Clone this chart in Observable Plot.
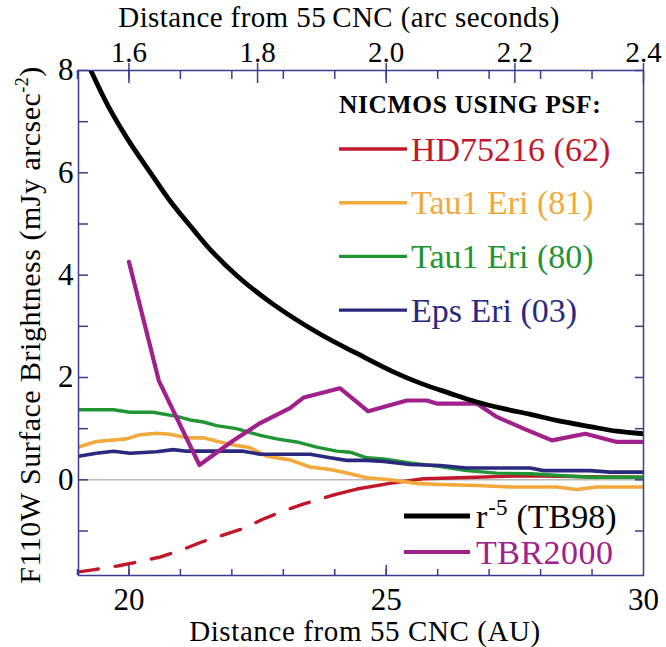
<!DOCTYPE html>
<html>
<head>
<meta charset="utf-8">
<script src="https://cdn.jsdelivr.net/npm/d3@7"></script>
<script src="https://cdn.jsdelivr.net/npm/@observablehq/plot@0.6"></script>
<style>
  html, body { margin: 0; padding: 0; background: #fff; }
  #chart { width: 666px; height: 647px; }
  #chart svg { display: block; }
</style>
</head>
<body>
<div id="chart"></div>
<script>
// ---------- Data ----------
// Distance in AU, surface brightness in mJy arcsec^-2
const r5TB98 = [
  [19.26, 8.0], [19.6, 7.3], [20.0, 6.62], [20.42, 6.0], [20.8, 5.45], [21.26, 4.88],
  [21.59, 4.49], [22.11, 3.98], [22.82, 3.42], [23.73, 2.84], [24.43, 2.47], [25.14, 2.11],
  [25.66, 1.89], [26.24, 1.69], [26.76, 1.52], [27.28, 1.39], [27.8, 1.28], [28.31, 1.16],
  [28.96, 1.04], [29.48, 0.95], [30.0, 0.90]
];
const tbr2000 = [
  [20.0, 4.26], [20.58, 1.94], [21.37, 0.29], [22.03, 0.77], [22.55, 1.11], [23.13, 1.40],
  [23.4, 1.61], [24.1, 1.79], [24.65, 1.34], [25.4, 1.55], [25.79, 1.55], [25.98, 1.49],
  [26.76, 1.49], [27.15, 1.23], [27.67, 1.0], [28.22, 0.77], [28.87, 0.90], [29.48, 0.74],
  [30.0, 0.74]
];
const tau1Eri80 = [
  [19.02, 1.37], [19.7, 1.37], [20.02, 1.32], [20.47, 1.32], [20.93, 1.24], [21.19, 1.17],
  [21.45, 1.13], [21.7, 1.06], [22.09, 1.0], [22.55, 0.87], [22.87, 0.80], [23.26, 0.74],
  [23.65, 0.64], [24.04, 0.56], [24.3, 0.54], [24.62, 0.43], [24.95, 0.41], [25.46, 0.33],
  [26.05, 0.26], [26.56, 0.18], [27.15, 0.13], [27.8, 0.12], [28.44, 0.08], [28.96, 0.05],
  [30.0, 0.05]
];
const tau1Eri81 = [
  [19.02, 0.64], [19.37, 0.75], [19.95, 0.80], [20.21, 0.88], [20.54, 0.91], [20.8, 0.89],
  [21.12, 0.82], [21.45, 0.82], [21.77, 0.74], [22.09, 0.67], [22.35, 0.63], [22.68, 0.46],
  [23.13, 0.39], [23.52, 0.25], [23.91, 0.20], [24.3, 0.12], [24.62, 0.04], [25.07, 0.0],
  [25.59, -0.07], [26.05, -0.09], [26.76, -0.11], [27.41, -0.14], [28.31, -0.14],
  [28.7, -0.19], [29.09, -0.14], [30.0, -0.14]
];
const epsEri03 = [
  [19.02, 0.46], [19.37, 0.52], [19.7, 0.56], [20.02, 0.52], [20.54, 0.55], [20.86, 0.59],
  [21.12, 0.56], [22.22, 0.56], [22.55, 0.50], [23.52, 0.50], [23.91, 0.43], [24.23, 0.38],
  [24.62, 0.38], [24.95, 0.36], [25.46, 0.30], [26.05, 0.28], [26.56, 0.23], [27.8, 0.23],
  [28.06, 0.18], [28.96, 0.18], [29.35, 0.15], [30.0, 0.15]
];
const hd75216Dashed = [
  [19.02, -1.80], [19.3, -1.76], [19.8, -1.68], [20.2, -1.60], [20.6, -1.51], [21.0, -1.38],
  [21.4, -1.22], [21.8, -1.09], [22.2, -0.96], [22.6, -0.77], [23.0, -0.61], [23.4, -0.47],
  [23.7, -0.38], [24.0, -0.29]
];
const hd75216Solid = [
  [24.0, -0.29], [24.43, -0.18], [25.07, -0.07], [25.72, 0.02], [26.76, 0.05], [27.67, 0.08],
  [28.96, 0.06], [30.0, 0.05]
];

// Axis ticks
const auLabelTicks = [20, 25, 30];
const auMinorTicks = [19, 20, 21, 22, 23, 24, 25, 26, 27, 28, 29];
const auMajorTicks = [20, 25];
const arcsecTicks = [1.6, 1.8, 2.0, 2.2, 2.4];
const auPerArcsec = 12.5;
const yLabelTicks = [0, 2, 4, 6, 8];
const yMinorTicks = [-1, 0, 1, 2, 3, 4, 5, 6, 7, 8];

// Legend entries
const psfLegend = [
  {label: "HD75216 (62)", color: "#c1172b"},
  {label: "Tau1 Eri (81)", color: "#f0a93a"},
  {label: "Tau1 Eri (80)", color: "#1f9534"},
  {label: "Eps Eri (03)", color: "#2a297d"}
];

// ---------- Layout ----------
const W = 666, H = 647;
const mL = 78, mR = 23, mT = 70, mB = 72;
const fW = W - mL - mR, fH = H - mT - mB;
const frameColor = "#3c3c8e";
const font = "'Liberation Serif', 'Times New Roman', serif";
const cRed = psfLegend[0].color, cOrange = psfLegend[1].color,
      cGreen = psfLegend[2].color, cNavy = psfLegend[3].color;
const cMagenta = "#a0218c", cBlack = "#000";

const X = d => d[0], Y = d => d[1];

const chart = Plot.plot({
  width: W, height: H,
  marginLeft: mL, marginRight: mR, marginTop: mT, marginBottom: mB,
  x: {domain: [19.02, 30]},
  y: {domain: [-1.87, 8]},
  style: {fontFamily: font, background: "#fff", color: "#000", overflow: "visible"},
  marks: [
    Plot.ruleY([0], {stroke: "#b8b8b8", strokeWidth: 1.6}),
    Plot.line(hd75216Dashed, {x: X, y: Y, stroke: cRed, strokeWidth: 3.4, strokeDasharray: "20,17", clip: true}),
    Plot.line(hd75216Solid, {x: X, y: Y, stroke: cRed, strokeWidth: 3.4, clip: true}),
    Plot.line(tau1Eri81, {x: X, y: Y, stroke: cOrange, strokeWidth: 3.6, clip: true}),
    Plot.line(tau1Eri80, {x: X, y: Y, stroke: cGreen, strokeWidth: 3.4, clip: true}),
    Plot.line(epsEri03, {x: X, y: Y, stroke: cNavy, strokeWidth: 3.6, clip: true}),
    Plot.line(tbr2000, {x: X, y: Y, stroke: cMagenta, strokeWidth: 4.2, clip: true}),
    Plot.line(r5TB98, {x: X, y: Y, stroke: cBlack, strokeWidth: 4.8, curve: "catmull-rom", clip: true}),
    Plot.frame({stroke: frameColor, strokeWidth: 1.5}),
    // bottom ticks (inward)
    Plot.tickX(auMinorTicks, {x: d => d, stroke: frameColor, strokeWidth: 1.5, insetTop: fH - 6}),
    Plot.tickX(auMajorTicks, {x: d => d, stroke: frameColor, strokeWidth: 1.5, insetTop: fH - 10}),
    // top ticks (inward) and long arcsec ticks
    Plot.tickX(auMinorTicks, {x: d => d, stroke: frameColor, strokeWidth: 1.5, insetBottom: fH - 9}),
    Plot.tickX(arcsecTicks, {x: d => d * auPerArcsec, stroke: frameColor, strokeWidth: 1.5, insetTop: -7, insetBottom: fH - 13}),
    // left / right ticks (inward)
    Plot.tickY(yMinorTicks, {y: d => d, stroke: frameColor, strokeWidth: 1.5, insetRight: fW - 10}),
    Plot.tickY(yMinorTicks, {y: d => d, stroke: frameColor, strokeWidth: 1.5, insetLeft: fW - 8}),
    // tick labels
    Plot.axisX(auLabelTicks, {anchor: "bottom", tickSize: 0, tickPadding: 12, fontSize: 31,
      tickFormat: d => String(d), label: null}),
    Plot.axisX(arcsecTicks.map(a => a * auPerArcsec), {anchor: "top", tickSize: 0, tickPadding: 9, fontSize: 29,
      tickFormat: d => (d / auPerArcsec).toFixed(1), label: null}),
    Plot.axisY(yLabelTicks, {anchor: "left", tickSize: 0, tickPadding: 5, fontSize: 31,
      tickFormat: d => String(d), label: null})
  ]
});

document.getElementById("chart").appendChild(chart);

// ---------- Titles and legends ----------
const svg = d3.select(chart);
const g = svg.append("g").attr("font-family", font).attr("fill", "#000").attr("text-anchor", "start");

// top title
g.append("text").attr("x", 339).attr("y", 27).attr("text-anchor", "middle")
  .attr("font-size", 29).attr("letter-spacing", 0.4)
  .text("Distance from 55\u2009CNC (arc seconds)");
// bottom title
g.append("text").attr("x", 365).attr("y", 641).attr("text-anchor", "middle")
  .attr("font-size", 29).attr("letter-spacing", 0.6)
  .text("Distance from 55 CNC (AU)");
// y title with superscript
const yt = g.append("text").attr("transform", "translate(40,325) rotate(-90)")
  .attr("text-anchor", "middle").attr("font-size", 30).attr("letter-spacing", 0.5);
yt.append("tspan").text("F110W Surface Brightness (mJy arcsec");
yt.append("tspan").attr("font-size", 18).attr("dy", -12).text("-2");
yt.append("tspan").attr("dy", 12).text(")");

// PSF legend
g.append("text").attr("x", 339).attr("y", 113).attr("font-size", 25.5)
  .attr("font-weight", "bold").attr("letter-spacing", 0.6).text("NICMOS USING PSF:");
psfLegend.forEach((d, i) => {
  const ly = 149 + i * 53.7;
  g.append("line").attr("x1", 339).attr("x2", 407).attr("y1", ly).attr("y2", ly)
    .attr("stroke", d.color).attr("stroke-width", 3.4);
  g.append("text").attr("x", 411).attr("y", ly + 11.5).attr("font-size", 34)
    .attr("fill", d.color).text(d.label);
});

// model legend
g.append("line").attr("x1", 404).attr("x2", 470).attr("y1", 516).attr("y2", 516)
  .attr("stroke", cBlack).attr("stroke-width", 4.8);
const t1 = g.append("text").attr("x", 476).attr("y", 528).attr("font-size", 34)
  .attr("xml:space", "preserve").style("white-space", "pre");
t1.append("tspan").text("r");
t1.append("tspan").attr("font-size", 23).attr("dy", -13).attr("dx", 1).text("-5");
t1.append("tspan").attr("dy", 13).attr("dx", 9).text("(TB98)");
g.append("line").attr("x1", 404).attr("x2", 470).attr("y1", 552).attr("y2", 552)
  .attr("stroke", cMagenta).attr("stroke-width", 4.2);
g.append("text").attr("x", 476).attr("y", 564).attr("font-size", 34).attr("letter-spacing", 0.5)
  .attr("fill", cMagenta).text("TBR2000");
</script>
</body>
</html>
